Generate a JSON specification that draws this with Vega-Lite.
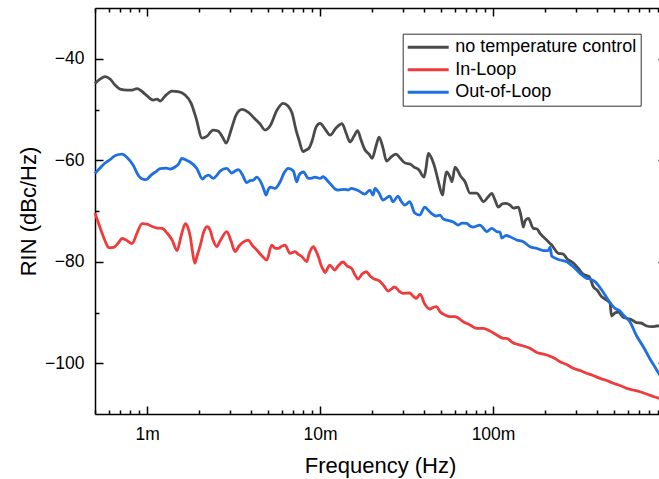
{
  "$schema": "https://vega.github.io/schema/vega-lite/v6.json",
  "width": 571,
  "height": 406,
  "autosize": "none",
  "padding": {"left": 95, "top": 8, "right": 0, "bottom": 65},
  "config": {
    "font": "Liberation Sans",
    "view": {"stroke": null},
    "axis": {
      "grid": false,
      "domainColor": "#000000",
      "domainWidth": 1.5,
      "tickColor": "#000000",
      "tickWidth": 1.5,
      "labelColor": "#000000",
      "labelFontSize": 17.5,
      "labelFlush": false,
      "labelOverlap": false,
      "titleColor": "#000000",
      "titleFontSize": 22,
      "titleFontWeight": "normal"
    }
  },
  "datasets": {
    "noControl": [
      {"f":0.0005,"v":-44.85},{"f":0.000535,"v":-44.0},{"f":0.000572,"v":-43.51},{"f":0.000611,"v":-44.0},{"f":0.000653,"v":-45.19},{"f":0.000698,"v":-45.97},{"f":0.000766,"v":-46.17},{"f":0.000819,"v":-46.17},{"f":0.000875,"v":-45.87},{"f":0.000974,"v":-46.96},
      {"f":0.001083,"v":-48.14},{"f":0.001142,"v":-47.94},{"f":0.001189,"v":-48.34},{"f":0.001271,"v":-47.35},{"f":0.001395,"v":-46.37},{"f":0.001511,"v":-46.47},{"f":0.001659,"v":-47.16},{"f":0.001796,"v":-48.73},{"f":0.00192,"v":-51.69},{"f":0.002079,"v":-55.63},
      {"f":0.002223,"v":-55.23},{"f":0.002407,"v":-54.05},{"f":0.002573,"v":-54.25},{"f":0.00275,"v":-55.63},{"f":0.002862,"v":-56.61},{"f":0.003059,"v":-54.05},{"f":0.00327,"v":-51.1},{"f":0.003541,"v":-49.97},{"f":0.003835,"v":-50.5},{"f":0.00421,"v":-51.88},
      {"f":0.004499,"v":-52.87},{"f":0.004808,"v":-54.05},{"f":0.005139,"v":-53.26},{"f":0.005641,"v":-50.11},{"f":0.00611,"v":-48.79},{"f":0.006529,"v":-49.32},{"f":0.006888,"v":-50.7},{"f":0.007265,"v":-54.05},{"f":0.007561,"v":-56.02},{"f":0.007975,"v":-58.32},
      {"f":0.0083,"v":-57.99},{"f":0.008639,"v":-57.6},{"f":0.00899,"v":-56.22},{"f":0.009482,"v":-53.46},{"f":0.01,"v":-52.73},{"f":0.01069,"v":-53.85},{"f":0.01142,"v":-55.04},{"f":0.01237,"v":-53.66},{"f":0.0134,"v":-52.77},{"f":0.01414,"v":-54.64},
      {"f":0.01491,"v":-56.41},{"f":0.01573,"v":-55.23},{"f":0.01648,"v":-54.15},{"f":0.01726,"v":-56.02},{"f":0.0182,"v":-57.99},{"f":0.0192,"v":-58.78},{"f":0.01998,"v":-59.63},{"f":0.02107,"v":-57.2},{"f":0.02193,"v":-55.43},{"f":0.02313,"v":-57.6},
      {"f":0.02423,"v":-60.16},{"f":0.02573,"v":-59.37},{"f":0.0275,"v":-58.78},{"f":0.029,"v":-59.57},{"f":0.031,"v":-60.55},{"f":0.03313,"v":-60.75},{"f":0.03494,"v":-61.34},{"f":0.03735,"v":-61.93},{"f":0.03991,"v":-63.31},{"f":0.04099,"v":-61.54},
      {"f":0.04226,"v":-58.64},{"f":0.04381,"v":-59.37},{"f":0.0462,"v":-61.54},{"f":0.04808,"v":-63.9},{"f":0.05117,"v":-66.86},{"f":0.05208,"v":-64.89},{"f":0.05398,"v":-62.32},{"f":0.05641,"v":-63.31},{"f":0.05793,"v":-64.24},{"f":0.06029,"v":-61.34},
      {"f":0.06274,"v":-62.13},{"f":0.06443,"v":-62.92},{"f":0.06888,"v":-64.24},{"f":0.07362,"v":-66.46},{"f":0.08049,"v":-66.46},{"f":0.08412,"v":-67.25},{"f":0.08789,"v":-68.18},{"f":0.09356,"v":-67.25},{"f":0.09828,"v":-66.52},{"f":0.1027,"v":-67.84},
      {"f":0.1073,"v":-69.22},{"f":0.1128,"v":-68.63},{"f":0.1173,"v":-68.49},{"f":0.1254,"v":-68.83},{"f":0.131,"v":-69.42},{"f":0.1401,"v":-69.22},{"f":0.1452,"v":-70.99},{"f":0.1497,"v":-73.16},{"f":0.1531,"v":-71.98},{"f":0.16,"v":-71.45},
      {"f":0.171,"v":-73.42},{"f":0.1796,"v":-73.55},{"f":0.1869,"v":-74.4},{"f":0.2043,"v":-75.72},{"f":0.2184,"v":-76.71},{"f":0.2385,"v":-78.34},{"f":0.2549,"v":-78.48},{"f":0.2667,"v":-79.33},{"f":0.2912,"v":-80.25},{"f":0.31,"v":-81.24},
      {"f":0.3313,"v":-82.42},{"f":0.3603,"v":-82.95},{"f":0.3799,"v":-84.92},{"f":0.3991,"v":-85.57},{"f":0.4249,"v":-86.89},{"f":0.444,"v":-87.34},{"f":0.4745,"v":-88.13},{"f":0.484,"v":-90.69},{"f":0.5071,"v":-90.1},{"f":0.5299,"v":-89.9},
      {"f":0.5641,"v":-90.89},{"f":0.5926,"v":-91.15},{"f":0.6359,"v":-91.48},{"f":0.6768,"v":-92.01},{"f":0.7168,"v":-92.07},{"f":0.7734,"v":-92.66},{"f":0.8267,"v":-92.8},{"f":0.8837,"v":-92.66},{"f":0.93,"v":-92.6}
    ],
    "inLoop": [
      {"f":0.0005,"v":-70.4},{"f":0.000521,"v":-72.17},{"f":0.000549,"v":-74.34},{"f":0.000572,"v":-75.92},{"f":0.000601,"v":-77.2},{"f":0.000642,"v":-77.16},{"f":0.000682,"v":-76.31},{"f":0.000717,"v":-75.42},{"f":0.000756,"v":-75.72},{"f":0.000819,"v":-76.41},
      {"f":0.000875,"v":-74.34},{"f":0.0009356,"v":-72.47},{"f":0.001,"v":-72.57},{"f":0.001069,"v":-73.06},{"f":0.001142,"v":-73.36},{"f":0.001221,"v":-73.42},{"f":0.001305,"v":-74.34},{"f":0.001395,"v":-75.72},{"f":0.001491,"v":-77.79},{"f":0.001573,"v":-74.93},
      {"f":0.001665,"v":-72.47},{"f":0.001726,"v":-73.36},{"f":0.001779,"v":-75.13},{"f":0.001832,"v":-78.08},{"f":0.001887,"v":-80.25},{"f":0.001945,"v":-78.87},{"f":0.002032,"v":-76.71},{"f":0.002135,"v":-73.95},{"f":0.002223,"v":-73.1},{"f":0.002313,"v":-73.75},
      {"f":0.002407,"v":-75.72},{"f":0.002529,"v":-77.0},{"f":0.002642,"v":-75.92},{"f":0.00289,"v":-74.05},{"f":0.003059,"v":-75.92},{"f":0.003226,"v":-77.99},{"f":0.003402,"v":-76.9},{"f":0.003685,"v":-75.92},{"f":0.00385,"v":-75.72},{"f":0.004045,"v":-76.71},
      {"f":0.004307,"v":-77.69},{"f":0.00462,"v":-78.87},{"f":0.004919,"v":-79.66},{"f":0.005258,"v":-76.71},{"f":0.005493,"v":-77.3},{"f":0.00574,"v":-77.36},{"f":0.006029,"v":-76.9},{"f":0.006274,"v":-76.71},{"f":0.006705,"v":-78.34},{"f":0.007168,"v":-77.99},
      {"f":0.007461,"v":-78.48},{"f":0.007838,"v":-78.97},{"f":0.008379,"v":-79.96},{"f":0.008639,"v":-78.48},{"f":0.009147,"v":-77.04},{"f":0.009482,"v":-77.89},{"f":0.009777,"v":-78.97},{"f":0.01013,"v":-80.65},{"f":0.01045,"v":-81.63},{"f":0.01069,"v":-82.12},
      {"f":0.01138,"v":-80.65},{"f":0.01216,"v":-81.63},{"f":0.01271,"v":-80.84},{"f":0.01358,"v":-80.05},{"f":0.01433,"v":-80.84},{"f":0.01517,"v":-81.24},{"f":0.01594,"v":-82.62},{"f":0.01659,"v":-83.4},{"f":0.01749,"v":-82.42},{"f":0.01852,"v":-81.97},
      {"f":0.01945,"v":-82.81},{"f":0.02024,"v":-83.27},{"f":0.02213,"v":-83.8},{"f":0.02345,"v":-84.78},{"f":0.02472,"v":-85.77},{"f":0.02703,"v":-84.98},{"f":0.02862,"v":-85.77},{"f":0.03018,"v":-86.22},{"f":0.03301,"v":-86.16},{"f":0.03402,"v":-86.56},
      {"f":0.03603,"v":-87.21},{"f":0.03784,"v":-86.36},{"f":0.04029,"v":-88.33},{"f":0.04307,"v":-89.31},{"f":0.04559,"v":-88.92},{"f":0.04713,"v":-88.86},{"f":0.04938,"v":-89.85},{"f":0.05278,"v":-90.49},{"f":0.05641,"v":-90.83},{"f":0.06029,"v":-90.83},
      {"f":0.06732,"v":-91.81},{"f":0.07362,"v":-92.46},{"f":0.08049,"v":-93.12},{"f":0.08789,"v":-93.12},{"f":0.09609,"v":-93.65},{"f":0.1051,"v":-94.43},{"f":0.1147,"v":-95.09},{"f":0.12,"v":-95.09},{"f":0.1283,"v":-95.81},{"f":0.1358,"v":-96.21},
      {"f":0.1433,"v":-96.41},{"f":0.1637,"v":-97.06},{"f":0.1789,"v":-97.88},{"f":0.1869,"v":-98.04},{"f":0.2087,"v":-98.47},{"f":0.2283,"v":-99.06},{"f":0.2439,"v":-99.69},{"f":0.2667,"v":-100.25},{"f":0.2912,"v":-101.0},{"f":0.3184,"v":-101.43},
      {"f":0.348,"v":-101.98},{"f":0.3784,"v":-102.41},{"f":0.4154,"v":-102.97},{"f":0.4541,"v":-103.4},{"f":0.4958,"v":-103.95},{"f":0.542,"v":-104.38},{"f":0.5926,"v":-104.94},{"f":0.6443,"v":-105.27},{"f":0.7074,"v":-105.61},{"f":0.7734,"v":-106.06},
      {"f":0.8446,"v":-106.55},{"f":0.93,"v":-107.0}
    ],
    "outOfLoop": [
      {"f":0.0005,"v":-62.58},{"f":0.000535,"v":-61.54},{"f":0.000572,"v":-60.55},{"f":0.000611,"v":-59.86},{"f":0.000656,"v":-59.07},{"f":0.000717,"v":-58.78},{"f":0.000766,"v":-59.47},{"f":0.00083,"v":-60.95},{"f":0.000896,"v":-63.11},{"f":0.000957,"v":-63.76},
      {"f":0.000987,"v":-63.8},{"f":0.001055,"v":-62.92},{"f":0.001138,"v":-62.13},{"f":0.001189,"v":-61.63},{"f":0.001288,"v":-61.54},{"f":0.001358,"v":-61.73},{"f":0.001458,"v":-61.28},{"f":0.001521,"v":-60.75},{"f":0.001587,"v":-59.66},{"f":0.001681,"v":-59.96},
      {"f":0.001772,"v":-60.35},{"f":0.001938,"v":-61.6},{"f":0.002093,"v":-63.7},{"f":0.002164,"v":-63.25},{"f":0.002268,"v":-62.92},{"f":0.002417,"v":-63.57},{"f":0.002539,"v":-62.92},{"f":0.002642,"v":-62.13},{"f":0.00289,"v":-61.6},{"f":0.003088,"v":-62.52},
      {"f":0.003226,"v":-62.13},{"f":0.003371,"v":-61.83},{"f":0.003541,"v":-62.72},{"f":0.00377,"v":-64.39},{"f":0.003938,"v":-64.0},{"f":0.004116,"v":-63.9},{"f":0.004307,"v":-63.31},{"f":0.004603,"v":-64.69},{"f":0.004745,"v":-65.87},{"f":0.004873,"v":-66.86},
      {"f":0.005004,"v":-65.87},{"f":0.005139,"v":-65.28},{"f":0.005493,"v":-65.54},{"f":0.005871,"v":-64.29},{"f":0.006192,"v":-62.52},{"f":0.006556,"v":-61.6},{"f":0.007009,"v":-62.13},{"f":0.007334,"v":-64.24},{"f":0.007561,"v":-62.92},{"f":0.008008,"v":-62.32},
      {"f":0.008559,"v":-63.57},{"f":0.00899,"v":-63.51},{"f":0.009356,"v":-63.31},{"f":0.01,"v":-63.57},{"f":0.01041,"v":-63.25},{"f":0.01117,"v":-64.24},{"f":0.01162,"v":-64.89},{"f":0.01221,"v":-65.67},{"f":0.01271,"v":-65.87},{"f":0.01389,"v":-65.73},
      {"f":0.01452,"v":-65.87},{"f":0.01517,"v":-65.54},{"f":0.01659,"v":-65.97},{"f":0.01813,"v":-66.66},{"f":0.01938,"v":-65.87},{"f":0.02024,"v":-66.86},{"f":0.02079,"v":-65.57},{"f":0.02193,"v":-66.46},{"f":0.02313,"v":-67.84},{"f":0.02529,"v":-67.05},
      {"f":0.02642,"v":-68.18},{"f":0.02824,"v":-67.05},{"f":0.02939,"v":-68.04},{"f":0.03088,"v":-68.83},{"f":0.03301,"v":-68.18},{"f":0.03527,"v":-70.4},{"f":0.0377,"v":-70.8},{"f":0.04029,"v":-69.22},{"f":0.0421,"v":-69.81},{"f":0.04399,"v":-70.46},
      {"f":0.04682,"v":-70.99},{"f":0.04938,"v":-70.8},{"f":0.05159,"v":-71.58},{"f":0.05398,"v":-71.78},{"f":0.05894,"v":-72.17},{"f":0.06299,"v":-72.77},{"f":0.06617,"v":-72.37},{"f":0.07045,"v":-72.43},{"f":0.07362,"v":-72.96},{"f":0.07692,"v":-73.16},
      {"f":0.08412,"v":-72.77},{"f":0.08872,"v":-73.55},{"f":0.09195,"v":-74.08},{"f":0.09828,"v":-73.42},{"f":0.1051,"v":-74.05},{"f":0.1098,"v":-74.14},{"f":0.1123,"v":-75.33},{"f":0.1189,"v":-74.83},{"f":0.1254,"v":-75.07},{"f":0.1371,"v":-75.72},
      {"f":0.1497,"v":-76.06},{"f":0.1637,"v":-77.04},{"f":0.1789,"v":-77.36},{"f":0.1953,"v":-77.79},{"f":0.2087,"v":-77.79},{"f":0.2135,"v":-77.1},{"f":0.2184,"v":-78.87},{"f":0.2313,"v":-79.36},{"f":0.2439,"v":-79.66},{"f":0.2667,"v":-80.0},
      {"f":0.2912,"v":-80.98},{"f":0.3184,"v":-82.28},{"f":0.348,"v":-83.27},{"f":0.3637,"v":-83.4},{"f":0.3886,"v":-83.93},{"f":0.4249,"v":-85.57},{"f":0.4638,"v":-87.54},{"f":0.5071,"v":-89.18},{"f":0.542,"v":-89.71},{"f":0.5664,"v":-90.49},
      {"f":0.6192,"v":-91.87},{"f":0.6768,"v":-94.63},{"f":0.7391,"v":-96.74},{"f":0.8083,"v":-99.16},{"f":0.8837,"v":-101.33},{"f":0.93,"v":-102.6}
    ]
  },
  "layer": [
    {
      "data": {"name": "noControl"},
      "mark": {"type": "line", "strokeWidth": 2.8, "interpolate": "monotone"},
      "encoding": {
        "x": {
          "field": "f",
          "type": "quantitative",
          "scale": {"type": "log", "domain": [0.0005, 1], "nice": false},
          "axis": {
            "orient": "bottom",
            "values": [0.0005, 0.0006, 0.0007, 0.0008, 0.0009, 0.001, 0.002, 0.003, 0.004, 0.005, 0.006, 0.007, 0.008, 0.009, 0.01, 0.02, 0.03, 0.04, 0.05, 0.06, 0.07, 0.08, 0.09, 0.1, 0.2, 0.3, 0.4, 0.5, 0.6, 0.7, 0.8, 0.9],
            "format": "~s",
            "labelExpr": "indexof([0.001, 0.01, 0.1], datum.value) >= 0 ? datum.label : ''",
            "tickSize": {"condition": {"test": "indexof([0.001, 0.01, 0.1], datum.value) >= 0", "value": -8}, "value": -4},
            "labelPadding": 19,
            "title": "Frequency (Hz)",
            "titleX": 285,
            "titleY": 58,
            "titleAlign": "center",
            "titleBaseline": "alphabetic"
          }
        },
        "y": {
          "field": "v",
          "type": "quantitative",
          "scale": {"domain": [-110, -30], "nice": false, "zero": false},
          "axis": {
            "orient": "left",
            "values": [-100, -90, -80, -70, -60, -50, -40],
            "labelExpr": "datum.value % 20 == 0 ? datum.label : ''",
            "tickSize": {"condition": {"test": "datum.value % 20 == 0", "value": -8}, "value": -4},
            "labelPadding": 19,
            "title": "RIN (dBc/Hz)",
            "titleX": -60,
            "titleY": 203,
            "titleAngle": -90,
            "titleAlign": "center",
            "titleBaseline": "alphabetic"
          }
        },
        "color": {
          "datum": "no temperature control",
          "type": "nominal",
          "scale": {
            "domain": ["no temperature control", "In-Loop", "Out-of-Loop"],
            "range": ["#4a4a4a", "#ef3b3b", "#1e6fdf"]
          },
          "legend": {
            "orient": "none",
            "legendX": 307.7,
            "legendY": 25.7,
            "title": null,
            "symbolType": "stroke",
            "symbolSize": 1681,
            "symbolStrokeWidth": 3,
            "labelFontSize": 18,
            "labelColor": "#000000",
            "labelOffset": 5,
            "labelLimit": 400,
            "clipHeight": 20,
            "rowPadding": 2.5,
            "padding": 3.5,
            "strokeColor": "#333333",
            "fillColor": "#ffffff"
          }
        }
      }
    },
    {
      "data": {"name": "inLoop"},
      "mark": {"type": "line", "strokeWidth": 2.8, "interpolate": "monotone"},
      "encoding": {
        "x": {"field": "f", "type": "quantitative", "scale": {"type": "log", "domain": [0.0005, 1], "nice": false}, "axis": null},
        "y": {"field": "v", "type": "quantitative", "scale": {"domain": [-110, -30], "nice": false, "zero": false}, "axis": null},
        "color": {"datum": "In-Loop", "type": "nominal"}
      }
    },
    {
      "data": {"name": "outOfLoop"},
      "mark": {"type": "line", "strokeWidth": 2.8, "interpolate": "monotone"},
      "encoding": {
        "x": {"field": "f", "type": "quantitative", "scale": {"type": "log", "domain": [0.0005, 1], "nice": false}, "axis": null},
        "y": {"field": "v", "type": "quantitative", "scale": {"domain": [-110, -30], "nice": false, "zero": false}, "axis": null},
        "color": {"datum": "Out-of-Loop", "type": "nominal"}
      }
    },
    {
      "data": {"name": "noControl"},
      "mark": {"type": "line", "strokeOpacity": 0},
      "encoding": {
        "x": {
          "field": "f",
          "type": "quantitative",
          "scale": {"type": "log", "domain": [0.0005, 1], "nice": false},
          "axis": {
            "orient": "top",
            "values": [0.0005, 0.0006, 0.0007, 0.0008, 0.0009, 0.001, 0.002, 0.003, 0.004, 0.005, 0.006, 0.007, 0.008, 0.009, 0.01, 0.02, 0.03, 0.04, 0.05, 0.06, 0.07, 0.08, 0.09, 0.1, 0.2, 0.3, 0.4, 0.5, 0.6, 0.7, 0.8, 0.9],
            "labels": false,
            "title": null,
            "tickSize": {"condition": {"test": "indexof([0.001, 0.01, 0.1], datum.value) >= 0", "value": -8}, "value": -4}
          }
        },
        "y": {
          "field": "v",
          "type": "quantitative",
          "scale": {"domain": [-110, -30], "nice": false, "zero": false},
          "axis": {
            "orient": "right",
            "values": [-100, -90, -80, -70, -60, -50, -40],
            "labels": false,
            "title": null,
            "tickSize": {"condition": {"test": "datum.value % 20 == 0", "value": -8}, "value": -4}
          }
        }
      }
    }
  ],
  "resolve": {"axis": {"x": "independent", "y": "independent"}}
}
